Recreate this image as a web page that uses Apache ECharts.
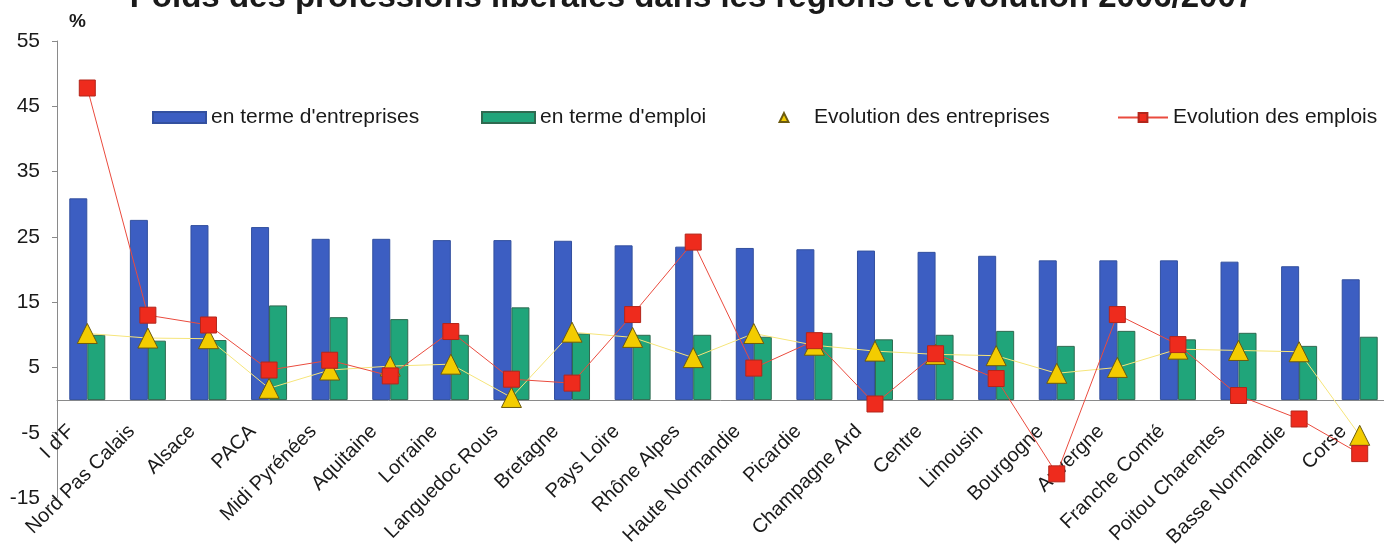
<!DOCTYPE html>
<html>
<head>
<meta charset="utf-8">
<title>Poids des professions libérales</title>
<script src="https://cdn.jsdelivr.net/npm/echarts@6/dist/echarts.min.js"></script>
<style>
  html, body { margin: 0; padding: 0; background: #fff; }
  #chart { width: 1384px; height: 550px; }
</style>
</head>
<body>
<div id="chart"></div>
<script>
// regions, sorted by weight in terms of companies
const regions = ["I d'F", 'Nord Pas Calais', 'Alsace', 'PACA', 'Midi Pyrénées', 'Aquitaine', 'Lorraine',
  'Languedoc Rous', 'Bretagne', 'Pays Loire', 'Rhône Alpes', 'Haute Normandie', 'Picardie',
  'Champagne Ard', 'Centre', 'Limousin', 'Bourgogne', 'Auvergne', 'Franche Comté',
  'Poitou Charentes', 'Basse Normandie', 'Corse']

const poidsEntreprises = [30.9, 27.6, 26.8, 26.5, 24.7, 24.7, 24.5, 24.5, 24.4, 23.7, 23.5, 23.3, 23.1,
  22.9, 22.7, 22.1, 21.4, 21.4, 21.4, 21.2, 20.5, 18.5]
const poidsEmploi = [10.0, 9.1, 9.2, 14.5, 12.7, 12.4, 10.0, 14.2, 10.2, 10.0, 10.0, 9.7, 10.3,
  9.3, 10.0, 10.6, 8.3, 10.6, 9.3, 10.3, 8.3, 9.7]
const evolEntreprises = [10.2, 9.5, 9.4, 1.8, 4.6, 5.2, 5.5, 0.4, 10.4, 9.6, 6.5, 10.2, 8.4,
  7.5, 7.0, 6.8, 4.1, 5.0, 7.8, 7.6, 7.4, -5.4]
const evolEmplois = [47.8, 13.0, 11.5, 4.6, 6.1, 3.7, 10.5, 3.2, 2.6, 13.1, 24.2, 4.9, 9.1,
  -0.6, 7.1, 3.3, -11.3, 13.1, 8.5, 0.7, -2.9, -8.2]

const yMin = -15
const yMax = 55
const yStep = 10

const font = 'Liberation Sans, Arial, sans-serif'
const gridTop = 41
const gridBottom = 52
const chartHeight = 550
// distance from the bottom of the grid up to the zero line, so the category axis sits on 0
const zeroOffset = (chartHeight - gridTop - gridBottom) * (0 - yMin) / (yMax - yMin)

const chart = echarts.init(document.getElementById('chart'))

function legendBox(name, left, width, extra) {
  return Object.assign({
    data: [name],
    left: left,
    top: 102,
    itemWidth: width,
    itemHeight: 11,
    icon: 'rect',
    textStyle: { fontFamily: font, fontSize: 21, color: '#1a1a1a' }
  }, extra || {})
}

chart.setOption({
  animation: false,
  title: {
    text: 'Poids des professions libérales dans les régions et évolution 2006/2007',
    left: 'center',
    top: -24,
    textStyle: { fontFamily: font, fontSize: 33, fontWeight: 'bold', color: '#1a1a1a' }
  },
  legend: [
    legendBox("en terme d'entreprises", 147, 53),
    legendBox("en terme d'emploi", 476, 53),
    legendBox('Evolution des entreprises', 753, 50, { icon: null, lineStyle: { opacity: 0 } }),
    legendBox('Evolution des emplois', 1112, 50, { icon: null })
  ],
  grid: { left: 57, right: -6, top: gridTop, bottom: gridBottom, outerBoundsMode: 'none', containLabel: false },
  xAxis: {
    type: 'category',
    data: regions,
    offset: -zeroOffset,
    axisLine: { onZero: false, lineStyle: { color: '#8a8a8a' } },
    axisTick: { length: 5, lineStyle: { color: '#8a8a8a' } },
    axisLabel: {
      interval: 0,
      rotate: 45,
      margin: 12,
      padding: [0, 23, 0, 0],
      fontFamily: font,
      fontSize: 20,
      color: '#1a1a1a'
    }
  },
  yAxis: {
    type: 'value',
    min: yMin,
    max: yMax,
    interval: yStep,
    name: '%',
    nameGap: 10,
    nameTextStyle: { fontFamily: font, fontSize: 19, fontWeight: 'bold', color: '#1a1a1a', align: 'left', padding: [0, 0, 0, 12] },
    axisLine: { show: true, lineStyle: { color: '#8a8a8a' } },
    axisTick: { show: true, length: 5, lineStyle: { color: '#8a8a8a' } },
    splitLine: { show: false },
    axisLabel: { fontFamily: font, fontSize: 21, color: '#1a1a1a', margin: 17 }
  },
  series: [
    {
      name: "en terme d'entreprises",
      type: 'bar',
      data: poidsEntreprises,
      barWidth: 18,
      barGap: '0%',
      itemStyle: { color: '#3c5ec2', borderColor: '#33509f', borderWidth: 1 }
    },
    {
      name: "en terme d'emploi",
      type: 'bar',
      data: poidsEmploi,
      barWidth: 18,
      barGap: '0%',
      itemStyle: { color: '#20a57a', borderColor: '#2f6a50', borderWidth: 1 }
    },
    {
      name: 'Evolution des entreprises',
      type: 'line',
      data: evolEntreprises,
      symbol: 'triangle',
      symbolSize: 20,
      lineStyle: { color: '#f6e57a', width: 1 },
      itemStyle: { color: '#f3cc00', borderColor: '#6b5a10', borderWidth: 1 },
      z: 3
    },
    {
      name: 'Evolution des emplois',
      type: 'line',
      data: evolEmplois,
      symbol: 'rect',
      symbolSize: 16,
      lineStyle: { color: '#ea4b3e', width: 1 },
      itemStyle: { color: '#ee2b1d', borderColor: '#b3261b', borderWidth: 1 },
      z: 4
    }
  ]
})
</script>
</body>
</html>
